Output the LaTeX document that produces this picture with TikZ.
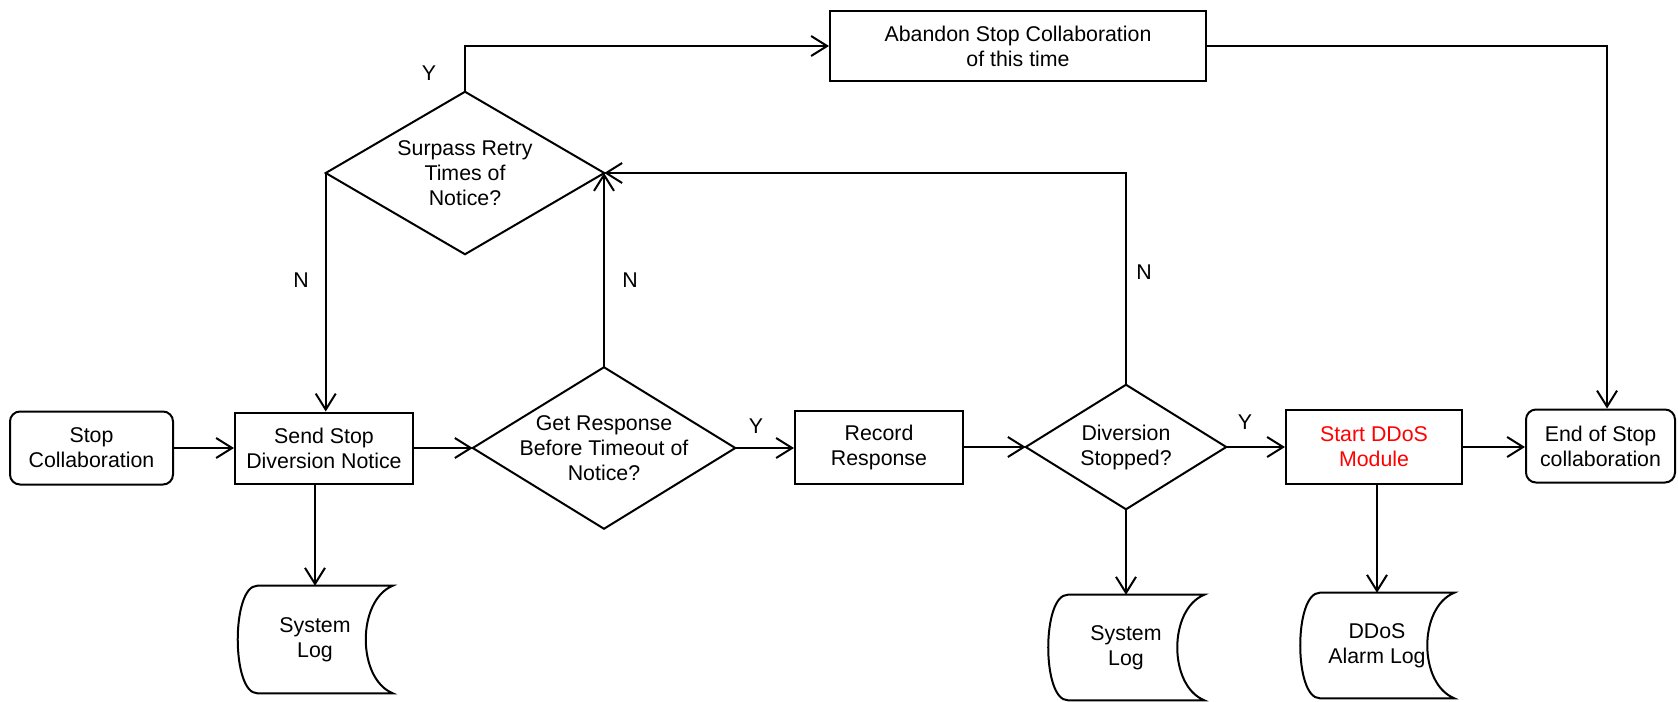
\documentclass[tikz,border=0pt]{standalone}
\usepackage{fontspec}
\setmainfont{Liberation Sans}
\usetikzlibrary{arrows.meta,backgrounds}
\begin{document}
\begin{tikzpicture}[x=0.75pt,y=-0.75pt,
  every node/.style={font=\fontsize{16}{18.75}\selectfont, align=center, inner sep=0pt},
  line/.style={line width=1.5pt, line join=miter},
  flow/.style={line, -{Straight Barb[length=12pt,width=15pt]}},
  sz/.style 2 args={minimum width=#1*0.75pt, minimum height=#2*0.75pt},
  procbox/.style={draw, line width=1.5pt},
  termbox/.style={draw, line width=1.5pt, rounded corners=7.5pt},
  decision/.style={shape=rectangle},
  storebox/.style={shape=rectangle},
  tag/.style={font=\fontsize{16}{18.75}\selectfont}
]
\useasboundingbox (0,0) rectangle (1678,701);

% main row
\node[termbox, sz={163}{73}] (start) at (91.5,448) {Stop\\Collaboration};
\node[procbox, sz={178}{71}] (send) at (324,448) {Send Stop\\Diversion Notice};
\node[decision, sz={262}{161}] (getresp) at (604,448) {Get Response\\Before Timeout of\\Notice?};
\node[procbox, sz={168}{73}] (record) at (879,447) {Record\\Response};
\node[decision, sz={200}{124}] (divers) at (1126,447) {Diversion\\Stopped?};
\node[procbox, sz={176}{74}, text=red] (ddos) at (1374,447) {Start DDoS\\Module};
\node[termbox, sz={149}{73}] (endc) at (1600.5,446) {End of Stop\\collaboration};

% retry decision and abandon branch
\node[decision, sz={278}{162}] (surpass) at (465,173) {Surpass Retry\\Times of\\Notice?};
\node[procbox, sz={376}{70}] (abandon) at (1018,46) {Abandon Stop Collaboration\\of this time};

% log stores
\node[storebox, sz={155}{107}] (log1) at (315,639.5) {System\\Log};
\node[storebox, sz={156}{105}] (log2) at (1126,647.5) {System\\Log};
\node[storebox, sz={154}{105}] (log3) at (1377,645.5) {DDoS\\Alarm Log};

% branch labels
\node[tag] (ytop) at (429,73) {Y};
\node[tag] (nleft) at (301,280) {N};
\node[tag] (nmid) at (630,280) {N};
\node[tag] (ymid) at (756,426) {Y};
\node[tag] (nright) at (1144,272) {N};
\node[tag] (yright) at (1245,422) {Y};

% outlines of decisions and stores
\begin{scope}[on background layer]
  \foreach \n in {surpass,getresp,divers}
    \draw[line] (\n.north) -- (\n.east) -- (\n.south) -- (\n.west) -- cycle;
  \foreach \n in {log1,log2,log3}
    \draw[line] (\n.north east) -- ([xshift=15pt]\n.north west)
      .. controls ([xshift=-4.5pt]\n.north west) and ([xshift=-4.5pt]\n.south west) .. ([xshift=15pt]\n.south west)
      -- (\n.south east)
      .. controls ([xshift=-27pt,yshift=11pt]\n.south east) and ([xshift=-27pt,yshift=-11pt]\n.north east) .. (\n.north east) -- cycle;
\end{scope}

% connectors
\draw[flow] (start.east) -- (send.west);
\draw[flow] (send.east) -- (getresp.west);
\draw[flow] (getresp.east) -- (record.west |- getresp.east);
\draw[flow] (record.east) -- (divers.west);
\draw[flow] (divers.east) -- (ddos.west);
\draw[flow] (ddos.east) -- (endc.west |- ddos.east);
\draw[flow] (log1.north |- send.south) -- (log1.north);
\draw[flow] (divers.south) -- (log2.north);
\draw[flow] (log3.north |- ddos.south) -- (log3.north);
\draw[flow] (surpass.west) -- (surpass.west |- send.north);
\draw[flow] (getresp.north) -- (getresp.north |- surpass.east);
\draw[flow] (divers.north) |- (surpass.east);
\draw[flow] (surpass.north) |- (abandon.west);
\draw[flow] (abandon.east) -| ([xshift=4.9pt]endc.north);
\end{tikzpicture}
\end{document}
